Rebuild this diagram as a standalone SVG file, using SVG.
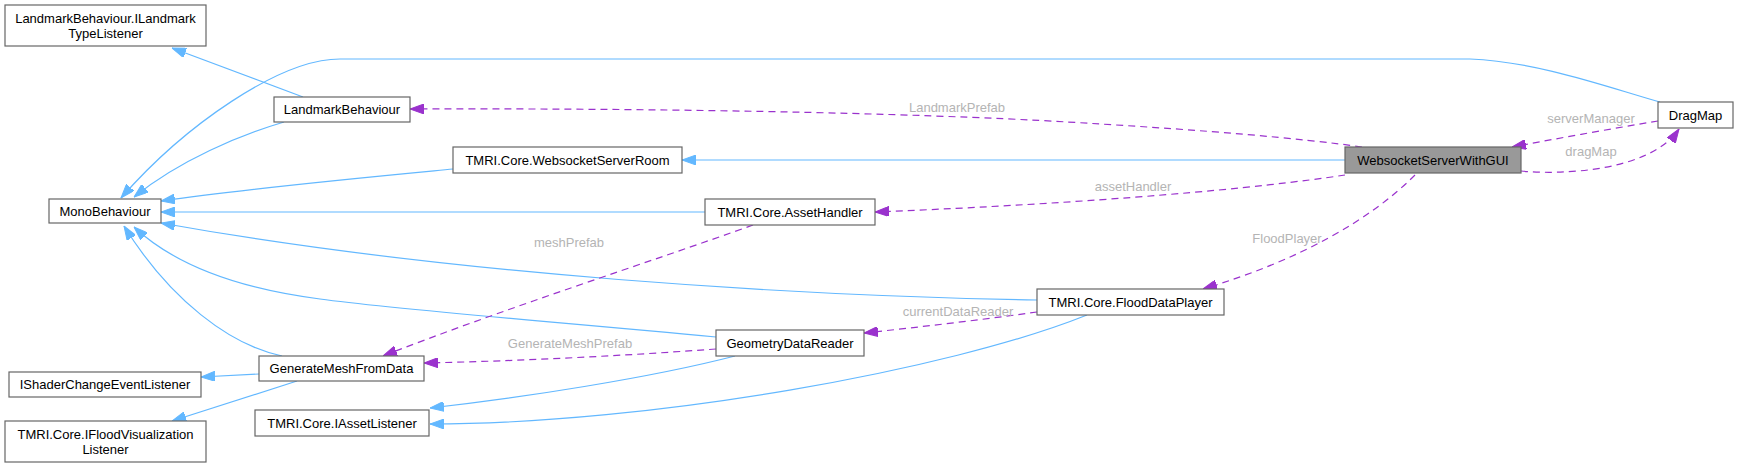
<svg xmlns="http://www.w3.org/2000/svg" width="1738" height="467" viewBox="0 0 1738 467">
<defs>
<style>
.node rect{fill:#ffffff;stroke:#666666;stroke-width:1.2}
.node.focus rect{fill:#999999}
.node text{font-family:"Liberation Sans",Arial,sans-serif;font-size:13px;fill:#000000;text-anchor:middle}
.inh{fill:none;stroke:#63b8ff;stroke-width:1.2;marker-end:url(#ab)}
.use{fill:none;stroke:#9a32cd;stroke-width:1.2;stroke-dasharray:7,5;marker-end:url(#ap)}
.lbl{font-family:"Liberation Sans",Arial,sans-serif;font-size:13px;fill:#b4b4b4;text-anchor:middle}
</style>
<marker id="ab" viewBox="0 0 14 10" refX="14" refY="5" markerWidth="14" markerHeight="10" markerUnits="userSpaceOnUse" orient="auto"><path d="M0,0 L14,5 L0,10 z" fill="#63b8ff" stroke="#63b8ff"/></marker>
<marker id="ap" viewBox="0 0 14 10" refX="14" refY="5" markerWidth="14" markerHeight="10" markerUnits="userSpaceOnUse" orient="auto"><path d="M0,0 L14,5 L0,10 z" fill="#9a32cd" stroke="#9a32cd"/></marker>
</defs>
<rect x="0" y="0" width="1738" height="467" fill="#ffffff"/>
<g id="connectors">
<path class="inh" d="M303,97 L172,48"/>
<path class="inh" d="M284,122 C240,135 180,160 134,197"/>
<path class="inh" d="M1660,102 C1610,88 1540,62 1470,59 L340,59 C280,59 185,125 121,198"/>
<path class="inh" d="M453,169 C380,176 250,188 161,201"/>
<path class="inh" d="M1345,160 L682,160"/>
<path class="inh" d="M705,212 L161,212"/>
<path class="inh" d="M1037,300 C800,296 450,275 161,223"/>
<path class="inh" d="M716,337 C560,322 400,310 320,299 C250,290 180,270 134,227"/>
<path class="inh" d="M282,356 C230,345 170,300 124,226"/>
<path class="inh" d="M259,374 L201,377"/>
<path class="inh" d="M297,381 L172,421"/>
<path class="inh" d="M735,356 C650,378 520,398 430,408"/>
<path class="inh" d="M1087,315 C950,370 650,424 430,424"/>
<path class="use" d="M1362,147 C1300,138 1200,130 1100,124 C950,114 700,108 410,109"/>
<path class="use" d="M1521,171 C1560,175 1650,172 1679,129"/>
<path class="use" d="M1658,121 C1610,129 1560,138 1512,147"/>
<path class="use" d="M1345,175 C1260,188 1100,203 875,212"/>
<path class="use" d="M1415,175 C1370,220 1300,260 1203,289"/>
<path class="use" d="M753,225 C650,262 500,310 383,356"/>
<path class="use" d="M1037,312 C980,320 920,327 864,333"/>
<path class="use" d="M716,349 C620,356 520,361 424,363"/>
<text class="lbl" x="957" y="112">LandmarkPrefab</text>
<text class="lbl" x="1133" y="191">assetHandler</text>
<text class="lbl" x="1287" y="243">FloodPlayer</text>
<text class="lbl" x="1591" y="123">serverManager</text>
<text class="lbl" x="1591" y="156">dragMap</text>
<text class="lbl" x="569" y="247">meshPrefab</text>
<text class="lbl" x="570" y="348">GenerateMeshPrefab</text>
<text class="lbl" x="958" y="316">currentDataReader</text>
</g>
<g id="n_iltl" class="node"><rect x="5" y="5" width="201" height="41"/><text x="105.5" y="23">LandmarkBehaviour.ILandmark</text><text x="105.5" y="38">TypeListener</text></g>
<g id="n_lb" class="node"><rect x="274" y="97" width="136" height="25"/><text x="342" y="114">LandmarkBehaviour</text></g>
<g id="n_mono" class="node"><rect x="49" y="199" width="112" height="24"/><text x="105" y="215.5">MonoBehaviour</text></g>
<g id="n_room" class="node"><rect x="453" y="147" width="229" height="26"/><text x="567.5" y="164.5">TMRI.Core.WebsocketServerRoom</text></g>
<g id="n_ah" class="node"><rect x="705" y="199" width="170" height="26"/><text x="790" y="216.5">TMRI.Core.AssetHandler</text></g>
<g id="n_wsgui" class="node focus"><rect x="1345" y="147" width="176" height="26"/><text x="1433" y="164.5">WebsocketServerWithGUI</text></g>
<g id="n_drag" class="node"><rect x="1658" y="102" width="75" height="26"/><text x="1695.5" y="119.5">DragMap</text></g>
<g id="n_fdp" class="node"><rect x="1037" y="289" width="187" height="26"/><text x="1130.5" y="306.5">TMRI.Core.FloodDataPlayer</text></g>
<g id="n_gdr" class="node"><rect x="716" y="330" width="148" height="26"/><text x="790" y="347.5">GeometryDataReader</text></g>
<g id="n_gmfd" class="node"><rect x="259" y="356" width="165" height="25"/><text x="341.5" y="373">GenerateMeshFromData</text></g>
<g id="n_ishader" class="node"><rect x="9" y="372" width="192" height="25"/><text x="105" y="389">IShaderChangeEventListener</text></g>
<g id="n_iflood" class="node"><rect x="5" y="421" width="201" height="41"/><text x="105.5" y="439">TMRI.Core.IFloodVisualization</text><text x="105.5" y="454">Listener</text></g>
<g id="n_ial" class="node"><rect x="255" y="410" width="174" height="26"/><text x="342" y="427.5">TMRI.Core.IAssetListener</text></g>
</svg>
